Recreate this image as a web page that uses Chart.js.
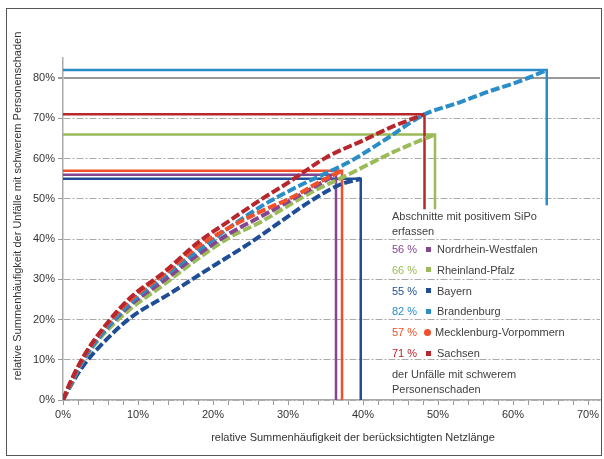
<!DOCTYPE html>
<html lang="de">
<head>
<meta charset="utf-8">
<title>Summenhäufigkeit SiPo</title>
<script src="https://cdn.jsdelivr.net/npm/chart.js@4.4.0/dist/chart.umd.min.js"></script>
<style>
  * { margin: 0; padding: 0; box-sizing: border-box; }
  body {
    width: 604px;
    height: 459px;
    background: #ffffff;
    font-family: "Liberation Sans", Arial, sans-serif;
    overflow: hidden;
    position: relative;
  }
  #chart { position: absolute; left: 0; top: 0; }
  .frame {
    position: absolute;
    left: 6px;
    top: 8px;
    width: 596px;
    height: 448px;
    border: 1px solid #555;
    pointer-events: none;
  }
  #legend {
    position: absolute;
    left: 0;
    top: 0;
    width: 604px;
    height: 459px;
    font-size: 11px;
    color: #404040;
    pointer-events: none;
  }
  #legend .row {
    position: absolute;
    left: 392px;
    height: 14px;
    line-height: 14px;
    white-space: nowrap;
  }
  #legend .val { display: inline-block; width: 34px; }
  #legend .mark {
    display: inline-block;
    width: 5px;
    height: 5px;
    margin: 0 6px 2px 0;
    vertical-align: middle;
  }
  #legend .mark.round { width: 7px; height: 7px; border-radius: 50%; margin-left: -2px; margin-right: 4px; }
</style>
</head>
<body>
<canvas id="chart" width="604" height="459"></canvas>
<div id="legend"></div>
<div class="frame"></div>

<script>
// States, their share (%) and colours
const states = ["Nordrhein-Westfalen", "Rheinland-Pfalz", "Bayern", "Brandenburg", "Mecklenburg-Vorpommern", "Sachsen"];
const shares = [56, 66, 55, 82, 57, 71];
const colors = ["#84468f", "#9bbb59", "#1f4e96", "#2a8dc8", "#f0502a", "#b8262e"];
const markers = ["square", "square", "square", "square", "round", "square"];

// Where each curve ends on the x axis and where its drop line stops
const endX = [36.4, 49.6, 39.7, 64.5, 37.2, 48.2];
const dropTo = [0, 47.4, 0, 48.4, 0, 47.4];

// Curves: [network length %, accidents %]
const nrwCurve = [[0,0],[1,4],[2.7,10],[5,16],[8.9,23.5],[13.3,29.5],[17.9,36],[22.3,41.5],[26.3,45.5],[30.7,50],[34,53.5],[36.4,56]];
const rpCurve = [[0,0],[1,3.8],[2.7,9.8],[5,15.5],[8.9,22.5],[13.3,28.5],[17.9,35],[22.3,40.5],[26.3,44.2],[32.9,51.4],[37.9,55.9],[44,61.6],[47,64],[49.6,66]];
const bayCurve = [[0,0],[1,3.5],[2.7,8.5],[5,13.5],[8.9,20.3],[14.3,26.5],[19.6,32.8],[24.9,39],[29.3,44.7],[32.9,49.3],[36.9,53.5],[39.7,55]];
const bbCurve = [[0,0],[1,4],[2.7,10],[5,16],[8.9,24],[13.3,30.5],[17.9,37],[22.3,43],[26.3,48],[30.7,52.5],[35.2,56.5],[38,59],[43.2,65],[48,70.8],[52.9,74],[56.5,76.5],[61,79.3],[64.5,82]];
const mvCurve = [[0,0],[1,4.3],[2.7,10.5],[5,16.8],[8.9,24.8],[13.3,31],[17.9,38],[22.3,43],[26.3,46.8],[30.7,50.5],[34,54],[37.2,57]];
const saCurve = [[0,0],[1,4.5],[2.7,10.7],[5,17],[8.9,25.3],[13.3,31.5],[17.9,39],[22.3,44.7],[26.3,49.7],[30,54],[35.2,60.4],[40,64.5],[44,68],[48.2,71]];
const curves = [nrwCurve, rpCurve, bayCurve, bbCurve, mvCurve, saCurve];

// Axis ticks and titles
const xTickValues = [0,2,4,6,8,10,12,14,16,18,20,22,24,26,28,30,32,34,36,38,40,42,44,46,48,50,52,54,56,58,60,62,64,66,68,70];
const yTickValues = [0,10,20,30,40,50,60,70,80];
const xTitle = "relative Summenhäufigkeit der berücksichtigten Netzlänge";
const yTitle = "relative Summenhäufigkeit der Unfälle mit schwerem Personenschaden";
const legendHead = ["Abschnitte mit positivem SiPo", "erfassen"];
const legendFoot = ["der Unfälle mit schwerem", "Personenschaden"];

// draw order: first dataset ends up on top
const drawOrder = [5, 4, 3, 0, 1, 2];

const datasets = [];
drawOrder.forEach(i => {
    datasets.push({
        data: curves[i].map(p => ({ x: p[0], y: p[1] })),
        borderColor: colors[i],
        borderWidth: 4,
        borderDash: [9, 3],
        pointRadius: 0,
        cubicInterpolationMode: "monotone",
        fill: false
    });
});
drawOrder.forEach(i => {
    datasets.push({
        data: [
            { x: 0, y: shares[i] },
            { x: endX[i], y: shares[i] },
            { x: endX[i], y: dropTo[i] }
        ],
        borderColor: colors[i],
        borderWidth: 2.5,
        pointRadius: 0,
        tension: 0,
        fill: false
    });
});

// axis titles placed like in the original figure
const axisTitles = {
    id: "axisTitles",
    afterDraw(chart) {
        const ctx = chart.ctx;
        ctx.save();
        ctx.font = '11px "Liberation Sans", Arial, sans-serif';
        ctx.fillStyle = "#333";
        ctx.textAlign = "center";
        ctx.textBaseline = "middle";
        ctx.fillText(xTitle, 353, 438);
        ctx.translate(18, 206);
        ctx.rotate(-Math.PI / 2);
        ctx.fillText(yTitle, 0, 0);
        ctx.restore();
    }
};

new Chart(document.getElementById("chart"), {
    type: "line",
    data: { datasets: datasets },
    plugins: [axisTitles],
    options: {
        responsive: false,
        animation: false,
        layout: { padding: { top: 58, right: 4, left: 0, bottom: 0 } },
        plugins: {
            legend: { display: false },
            tooltip: { enabled: false }
        },
        scales: {
            x: {
                type: "linear",
                min: 0,
                max: 71.6,
                afterBuildTicks: axis => { axis.ticks = xTickValues.map(v => ({ value: v })); },
                afterFit: s => { s.height = 59; },
                ticks: {
                    autoSkip: false,
                    maxRotation: 0,
                    padding: 3,
                    color: "#333",
                    font: { size: 11, family: '"Liberation Sans", Arial, sans-serif' },
                    callback: v => (v % 10 === 0 ? v + "%" : "")
                },
                grid: { drawOnChartArea: false, tickLength: 5, color: "#999" },
                border: { color: "#aaa", width: 1.5 }
            },
            y: {
                type: "linear",
                min: 0,
                max: 85,
                afterBuildTicks: axis => { axis.ticks = yTickValues.map(v => ({ value: v })); },
                afterFit: s => { s.width = 63; },
                ticks: {
                    padding: 3,
                    color: "#333",
                    font: { size: 11, family: '"Liberation Sans", Arial, sans-serif' },
                    callback: v => v + "%"
                },
                grid: {
                    tickLength: 5,
                    color: c => (c.tick && c.tick.value === 80 ? "#999" : "#aaa"),
                    lineWidth: c => (c.tick && c.tick.value === 80 ? 2 : 1),
                    tickColor: "#999"
                },
                border: {
                    color: "#aaa",
                    width: 1.5,
                    dash: c => (c.tick && c.tick.value === 80 ? [] : [7, 2, 2, 2])
                }
            }
        }
    }
});

// legend block on the right
const legend = document.getElementById("legend");
function addRow(top, html) {
    const d = document.createElement("div");
    d.className = "row";
    d.style.top = (top - 7) + "px";
    d.innerHTML = html;
    legend.appendChild(d);
}
addRow(216, legendHead[0]);
addRow(231, legendHead[1]);
states.forEach((s, i) => {
    const mk = '<span class="mark' + (markers[i] === "round" ? " round" : "") +
        '" style="background:' + colors[i] + '"></span>';
    addRow(249 + i * 20.8,
        '<span class="val" style="color:' + colors[i] + '">' + shares[i] + ' %</span>' + mk + s);
});
addRow(374, legendFoot[0]);
addRow(389, legendFoot[1]);
</script>
</body>
</html>
